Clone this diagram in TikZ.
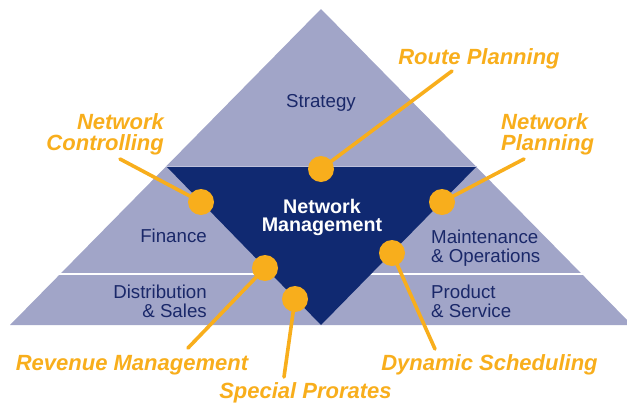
\documentclass[tikz,border=0pt]{standalone}
\usepackage{fontspec}
\setmainfont{Liberation Sans}
\pgfdeclarelayer{back}
\pgfdeclarelayer{leaders}
\pgfsetlayers{back,leaders,main}
\begin{document}
\definecolor{lavender}{RGB}{161,165,200}
\definecolor{lavlight}{RGB}{190,193,219}
\definecolor{navy}{RGB}{16,41,113}
\definecolor{navytext}{RGB}{26,40,105}
\definecolor{amber}{RGB}{248,174,28}
\begin{tikzpicture}[x=1pt,y=-1pt,
  area/.style={font=\fontsize{18.7}{19}\selectfont, text=navytext, inner sep=0pt},
  callout/.style={font=\fontsize{22}{21}\selectfont\bfseries\itshape, text=amber, inner sep=0pt},
  dot/.style={circle, fill=amber, minimum size=26pt, inner sep=0pt},
  leader/.style={draw=amber, line width=3.6pt, line cap=round}]
\useasboundingbox (0,0) rectangle (627,402);

\begin{pgfonlayer}{back}
% pyramid body
\fill[lavender] (321,9) -- (632,325) -- (10,325) -- cycle;
% gap between middle and lower tier
\fill[white] (0,272.5) rectangle (640,275);
% central inverted triangle
\fill[navy] (166,166) -- (477,166) -- (321,325) -- cycle;
\draw[lavlight, line width=0.8pt] (166,166) -- (477,166);
\end{pgfonlayer}

% tier labels
\node[area] (strategy) at (321,103) {Strategy};
\node[area, anchor=east] (finance) at (207,236.3) {Finance};
\node[area, anchor=west, align=left] (maint) at (431,248) {Maintenance\\\& Operations};
\node[area, anchor=east, align=right] (dist) at (207,301) {Distribution\\\& Sales};
\node[area, anchor=west, align=left] (prod) at (431,301) {Product\\\& Service};
\node[font=\fontsize{19.7}{18}\selectfont\bfseries, text=white, align=center, inner sep=0pt]
  (core) at (322,217.3) {Network\\Management};

% callout labels
\node[callout] (route) at (479,58.5) {Route Planning};
\node[callout, anchor=east, align=right] (ctrl) at (164,134.5) {Network\\Controlling};
\node[callout, anchor=west, align=left] (plan) at (501,134.5) {Network\\Planning};
\node[callout] (revenue) at (132,365) {Revenue Management};
\node[callout] (prorate) at (305.5,393) {Special Prorates};
\node[callout] (dynamic) at (489.5,365) {Dynamic Scheduling};

% leader line end points
\coordinate (routeEnd) at (452,71);
\coordinate (ctrlEnd) at (120,159);
\coordinate (planEnd) at (524,159);
\coordinate (revEnd) at (188,348);
\coordinate (proEnd) at (284,377);
\coordinate (dynEnd) at (435,349);

% dots on the central triangle
\node[dot] (dRoute) at (321,169) {};
\node[dot] (dCtrl) at (201,202) {};
\node[dot] (dPlan) at (442,202) {};
\node[dot] (dRev) at (265,268) {};
\node[dot] (dPro) at (295,299) {};
\node[dot] (dDyn) at (392,253) {};

% leader lines, kept underneath the dots
\begin{pgfonlayer}{leaders}
\draw[leader] (dRoute.center) -- (routeEnd);
\draw[leader] (dCtrl.center) -- (ctrlEnd);
\draw[leader] (dPlan.center) -- (planEnd);
\draw[leader] (dRev.center) -- (revEnd);
\draw[leader] (dPro.center) -- (proEnd);
\draw[leader] (dDyn.center) -- (dynEnd);
\end{pgfonlayer}
\end{tikzpicture}
\end{document}
